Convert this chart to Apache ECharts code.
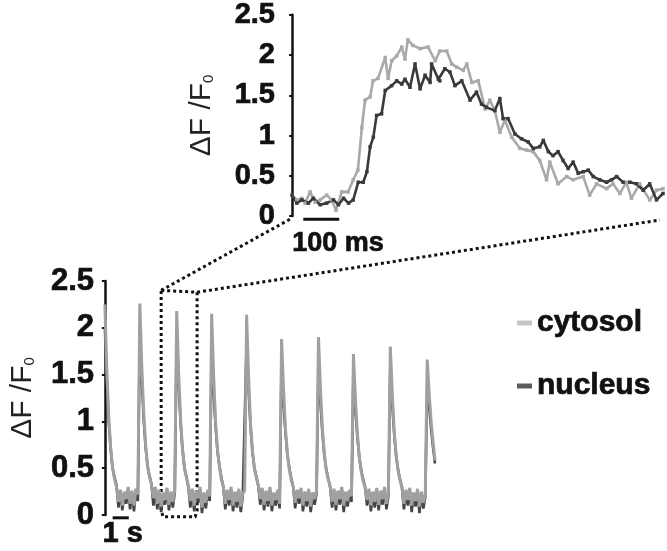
<!DOCTYPE html>
<html>
<head>
<meta charset="utf-8">
<script src="https://cdn.jsdelivr.net/npm/echarts@6/dist/echarts.min.js"></script>
<style>
html, body { margin: 0; padding: 0; background: #fff; }
#chart { width: 667px; height: 551px; }
</style>
</head>
<body>
<div id="chart"></div>
<script>
const FONT = '"Liberation Sans", Arial, sans-serif';

// inset: one transient, time in ms
const insetCytoT = [0,13,27,36,50,64,78,96,110,122,138,156,170,183,194,203,217,225,239,259,267,277,291,305,314,322,336,356,378,398,411,430,444,458,476,486,500,518,537,550,564,578,592,611,634,652,671,689,708,717,740,764,782,810,828,847,875,893,912,930,944,967,995,1014,1032];
const insetCytoV = [0.26,0.20,0.22,0.16,0.30,0.17,0.20,0.26,0.20,0.07,0.30,0.30,0.45,0.57,1.10,1.44,1.48,1.68,1.71,1.97,1.71,1.93,1.99,2.10,1.95,2.19,2.12,2.08,2.10,1.93,2.05,2.05,1.89,1.85,1.81,1.89,1.66,1.68,1.33,1.44,1.31,1.04,1.19,0.98,0.84,0.82,0.80,0.69,0.45,0.67,0.40,0.49,0.45,0.49,0.26,0.40,0.34,0.40,0.28,0.42,0.22,0.40,0.20,0.32,0.34];
const insetNucT = [0,13,27,45,59,78,96,115,129,143,157,170,184,198,208,217,226,235,249,259,277,291,305,314,328,342,356,370,384,388,407,411,425,439,453,472,495,513,527,541,564,578,587,601,620,638,657,671,689,699,713,726,740,754,768,782,796,810,824,838,856,875,889,903,921,940,958,977,995,1014,1032];
const insetNucV = [0.26,0.16,0.20,0.16,0.22,0.14,0.16,0.20,0.14,0.22,0.16,0.20,0.42,0.42,0.55,0.86,0.98,1.25,1.27,1.56,1.62,1.68,1.64,1.70,1.60,1.89,1.58,1.75,1.66,1.89,1.70,1.68,1.83,1.79,1.62,1.68,1.44,1.54,1.39,1.35,1.31,1.46,1.21,1.21,1.02,0.96,0.92,0.84,0.86,0.94,0.80,0.75,0.80,0.69,0.59,0.67,0.53,0.55,0.57,0.49,0.45,0.42,0.45,0.49,0.42,0.42,0.40,0.32,0.40,0.20,0.28];

// full recording, one sample every sampleDt seconds
const sampleDt = 0.12;
const traceCyto = [
  2.25,1.55,1.05,0.72,0.5,0.38,0.3,0.14,0.27,0.1,0.25,0.17,0.3,0.12,0.26,0.1,0.28,0.22,
  2.26,1.6,1.1,0.75,0.52,0.4,0.33,0.18,0.3,0.12,0.27,0.09,0.24,0.16,0.29,0.11,0.25,0.14,0.27,
  2.18,1.52,1.02,0.7,0.5,0.4,0.31,0.15,0.28,0.1,0.26,0.18,0.3,0.08,0.24,0.13,0.27,0.2,
  2.15,1.5,1.0,0.7,0.52,0.38,0.3,0.12,0.27,0.16,0.3,0.1,0.25,0.14,0.28,0.09,0.23,0.26,
  2.14,1.48,0.98,0.68,0.5,0.4,0.32,0.17,0.29,0.11,0.26,0.15,0.3,0.1,0.24,0.16,0.27,0.12,
  1.88,1.35,0.92,0.65,0.48,0.37,0.3,0.13,0.27,0.18,0.29,0.1,0.25,0.15,0.28,0.09,0.24,0.17,0.26,
  1.9,1.36,0.93,0.66,0.48,0.38,0.31,0.14,0.28,0.11,0.26,0.17,0.3,0.1,0.25,0.15,0.27,0.2,
  1.72,1.25,0.88,0.62,0.47,0.36,0.3,0.16,0.28,0.1,0.25,0.14,0.29,0.11,0.26,0.17,0.3,0.12,0.24,
  1.8,1.3,0.9,0.64,0.47,0.37,0.3,0.12,0.27,0.16,0.29,0.1,0.24,0.15,0.28,0.09,0.25,0.13,0.22,
  1.66,1.3,1.0,0.78,0.58
];
const traceNuc = [
  2.0,1.45,1.0,0.7,0.5,0.4,0.32,0.08,0.25,0.05,0.22,0.12,0.28,0.06,0.23,0.04,0.26,0.15,
  1.95,1.45,1.02,0.72,0.52,0.42,0.33,0.1,0.26,0.06,0.24,0.03,0.2,0.11,0.27,0.05,0.22,0.08,0.24,
  1.95,1.4,0.98,0.7,0.5,0.41,0.3,0.08,0.25,0.04,0.22,0.13,0.27,0.02,0.2,0.07,0.24,0.15,
  1.78,1.32,0.95,0.68,0.52,0.4,0.3,0.06,0.24,0.1,0.27,0.04,0.21,0.08,0.25,0.03,0.2,0.22,
  1.85,1.35,0.95,0.68,0.5,0.41,0.31,0.11,0.26,0.05,0.23,0.09,0.27,0.04,0.2,0.1,0.24,0.07,
  1.62,1.2,0.88,0.64,0.5,0.39,0.3,0.07,0.24,0.12,0.26,0.04,0.22,0.09,0.25,0.03,0.2,0.11,0.23,
  1.62,1.22,0.88,0.64,0.49,0.39,0.3,0.08,0.25,0.05,0.23,0.11,0.27,0.03,0.21,0.09,0.24,0.14,
  1.5,1.12,0.84,0.62,0.48,0.38,0.3,0.1,0.25,0.04,0.22,0.08,0.26,0.05,0.23,0.11,0.27,0.06,0.2,
  1.58,1.18,0.86,0.63,0.48,0.38,0.29,0.06,0.24,0.1,0.26,0.03,0.21,0.09,0.25,0.02,0.22,0.07,0.19,
  1.42,1.15,0.92,0.72,0.55
];

const yMax = 2.5;
const yStep = 0.5;
const insetBar = [31, 131];      // 100 ms scale bar (ms)
const traceBar = [0.48, 1.48];   // 1 s scale bar (s)
const zoomFrom = 3.48, zoomTo = 5.7, zoomTop = 2.4; // dotted box on the full trace (s)

const pairs = (t, v) => t.map((x, i) => [x, v[i]]);
const timed = v => v.map((y, i) => [+(i * sampleDt).toFixed(3), y]);
const heavy = { textBorderColor: "#111", textBorderWidth: 0.7 };

function yAxisFor(grid, fontSize, gap) {
  return {
    gridIndex: grid, type: "value", min: 0, max: yMax, interval: yStep,
    name: "ΔF /F{sub|0}", nameLocation: "middle", nameRotate: 90, nameGap: gap,
    nameTextStyle: {
      fontFamily: FONT, fontSize: 30, color: "#222",
      rich: { sub: { fontFamily: FONT, fontSize: 15, color: "#222", padding: [14, 0, 0, 0] } }
    },
    splitLine: { show: false },
    axisLine: { show: true, lineStyle: { color: "#111", width: 2.5 } },
    axisTick: { show: true, length: 3, lineStyle: { color: "#111", width: 2 } },
    axisLabel: Object.assign({ fontFamily: FONT, fontWeight: "bold", fontSize: fontSize, color: "#111", margin: 6 }, heavy)
  };
}

const chart = echarts.init(document.getElementById("chart"));
chart.setOption({
  animation: false,
  backgroundColor: "#fff",
  legend: {
    data: [
      { name: "cytosol", itemStyle: { color: "#c6c6c6" } },
      { name: "nucleus", itemStyle: { color: "#5c5c5c" } }
    ],
    orient: "vertical", left: 512, top: 301, icon: "rect",
    itemWidth: 15, itemHeight: 5, itemGap: 29, selectedMode: false,
    textStyle: Object.assign({ fontFamily: FONT, fontWeight: "bold", fontSize: 30, color: "#111", lineHeight: 34 }, heavy)
  },
  grid: [
    { left: 281, right: 4, top: 14, bottom: 335 },
    { left: 90, right: 232, top: 281, bottom: 36 }
  ],
  xAxis: [
    { gridIndex: 0, type: "value", min: -31, max: 1032, show: false },
    { gridIndex: 1, type: "value", min: -0.3, max: +((traceCyto.length - 1) * sampleDt).toFixed(3), show: false }
  ],
  yAxis: [yAxisFor(0, 29, 64), yAxisFor(1, 31, 62)],
  series: [
    {
      name: "cytosol", type: "line", xAxisIndex: 0, yAxisIndex: 0,
      data: pairs(insetCytoT, insetCytoV), symbol: "rect", symbolSize: 3.5, showSymbol: true,
      itemStyle: { color: "#a9a9a9" }, lineStyle: { color: "#a9a9a9", width: 2.6 }
    },
    {
      name: "nucleus", type: "line", xAxisIndex: 0, yAxisIndex: 0,
      data: pairs(insetNucT, insetNucV), symbol: "rect", symbolSize: 3.5, showSymbol: true,
      itemStyle: { color: "#3a3a3a" }, lineStyle: { color: "#3a3a3a", width: 2.6 }
    },
    {
      name: "nucleus", type: "line", xAxisIndex: 1, yAxisIndex: 1,
      data: timed(traceNuc), symbol: "none",
      lineStyle: { color: "#454545", width: 2.6 }
    },
    {
      name: "cytosol", type: "line", xAxisIndex: 1, yAxisIndex: 1,
      data: timed(traceCyto), symbol: "none",
      lineStyle: { color: "#a0a0a0", width: 3 }
    },
    {
      name: "bar100", type: "line", xAxisIndex: 0, yAxisIndex: 0, clip: false, silent: true,
      data: [[insetBar[0], -0.04], [insetBar[1], -0.04]], symbol: "none",
      lineStyle: { color: "#111", width: 3 }
    },
    {
      name: "bar1s", type: "line", xAxisIndex: 1, yAxisIndex: 1, clip: false, silent: true,
      data: [[traceBar[0], -0.03], [traceBar[1], -0.03]], symbol: "none",
      lineStyle: { color: "#111", width: 3 }
    }
  ]
});

// dotted zoom box and connector lines, placed from axis coordinates
const p0 = v => chart.convertToPixel({ gridIndex: 0 }, v);
const p1 = v => chart.convertToPixel({ gridIndex: 1 }, v);
const tl = p1([zoomFrom, zoomTop]);
const tr = p1([zoomTo, zoomTop - 0.02]);
const boxPts = [
  tl, tr, p1([zoomTo, 0.05]), p1([zoomTo - 0.12, -0.02]),
  p1([zoomFrom + 0.12, -0.02]), p1([zoomFrom, 0.05]), tl
];
const dotted = { stroke: "#111", lineWidth: 3, lineDash: [3, 3], fill: null };
const bar0 = p0([insetBar[0], -0.04]);
const bar1 = p1([(traceBar[0] + traceBar[1]) / 2, -0.03]);
chart.setOption({
  graphic: [
    { type: "polyline", shape: { points: boxPts }, style: dotted, silent: true },
    { type: "polyline", shape: { points: [tl, p0([0, -0.025])] }, style: dotted, silent: true },
    { type: "polyline", shape: { points: [tr, p0([1023, -0.05])] }, style: dotted, silent: true },
    {
      type: "text", x: bar0[0] - 11, y: bar0[1] + 24, silent: true,
      style: { text: "100 ms", font: "bold 27px " + FONT, fill: "#111", stroke: "#111", lineWidth: 0.7, align: "left", verticalAlign: "middle" }
    },
    {
      type: "text", x: bar1[0] + 2, y: bar1[1] + 16, silent: true,
      style: { text: "1 s", font: "bold 29px " + FONT, fill: "#111", stroke: "#111", lineWidth: 0.7, align: "center", verticalAlign: "middle" }
    }
  ]
});
</script>
</body>
</html>
